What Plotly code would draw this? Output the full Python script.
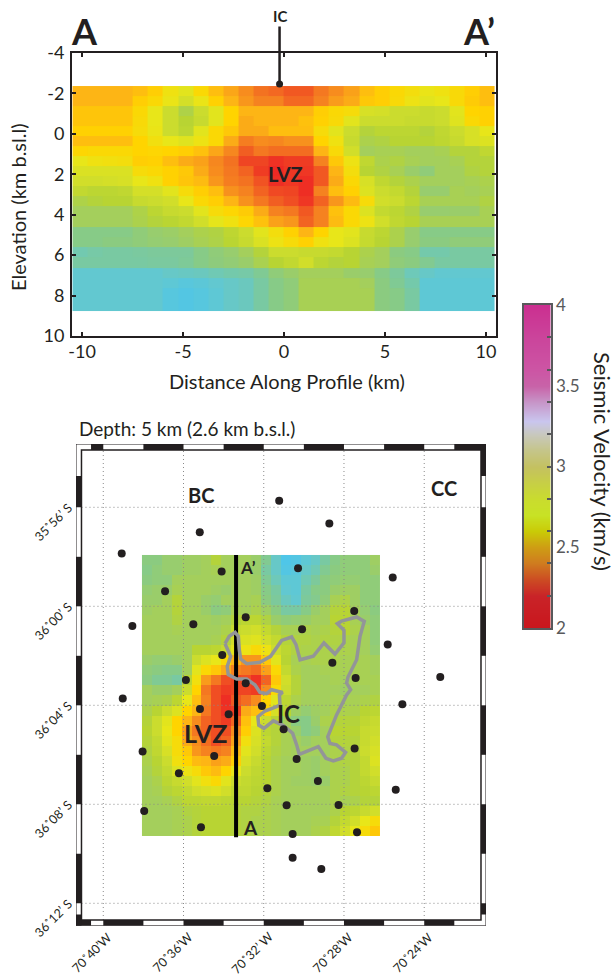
import plotly.graph_objects as go

W, H = 616, 978
INK = "#231f20"
FONT = "Lato"

# ---------- colour scale of the velocity images (velocity = 2 + level/100) ----------
image_scale = [
    [0.0, "#ed2024"], [10/120, "#f04e23"], [20/120, "#f58220"], [30/120, "#fdb515"],
    [40/120, "#ffd400"], [50/120, "#e8e619"], [60/120, "#cbdc2e"], [70/120, "#b8d433"],
    [80/120, "#a4cf5c"], [90/120, "#8bcb80"], [100/120, "#79c9a2"], [110/120, "#62c8d0"],
    [1.0, "#4fc6e8"],
]
# ---------- colour bar ----------
bar_scale = [
    [0.0, "#c9161d"], [0.1, "#c92328"], [0.15, "#cc4a23"], [0.2, "#cf7c1f"], [0.25, "#ce9d14"],
    [0.3, "#c9cb06"], [0.35, "#c8e225"], [0.4, "#c9dc2e"], [0.45, "#c7cf45"], [0.5, "#c4c160"],
    [0.55, "#c5c58a"], [0.6, "#c8c8be"], [0.64, "#c9c6ee"], [0.7, "#c795c8"], [0.75, "#c863a8"],
    [0.8, "#cc55a4"], [0.9, "#cb449b"], [1.0, "#cb2f90"],
]
bar_levels = [2.0, 2.1, 2.2, 2.3, 2.4, 2.5, 2.6, 2.7, 2.8, 2.9, 3.0, 3.1, 3.2, 3.3, 3.4, 3.5, 3.6, 3.7, 3.8, 3.9, 4.0]
bar_labels = [2, 2.5, 3, 3.5, 4]
bar_label_text = ["2", "2.5", "3", "3.5", "4"]
bar_minor = [2.2, 2.4, 2.6, 2.8, 3.0, 3.2, 3.4, 3.6, 3.8]

# ---------- cross-section A-A' ----------
section_dist_x0 = -10.10
section_dist_dx = 0.747
section_depth_edges = [-2.366, -1.87, -1.376, -0.88, -0.386, 0.109, 0.604, 1.1, 1.594, 2.09, 2.585, 3.08,
                       3.575, 4.07, 4.63, 5.126, 5.62, 6.116, 6.644, 7.14, 7.634, 8.13, 8.77]
section_levels = [
    [30,30,30,30,33,38,47,52,42,33,27,22,17,15,12,12,18,22,26,33,38,42,45,49,47,43,38,33],
    [30,30,30,30,38,42,49,57,49,39,30,24,20,20,15,15,20,25,28,36,38,43,48,52,50,43,37,33],
    [35,35,35,35,42,50,60,75,60,52,40,30,30,30,30,30,38,42,44,56,57,60,60,62,60,52,40,39],
    [35,35,35,35,43,50,60,70,62,52,40,28,30,30,30,34,39,43,52,60,60,60,62,62,60,53,42,39],
    [39,39,39,39,44,49,60,68,52,42,36,28,28,33,33,33,44,52,60,72,68,68,68,72,66,60,56,50],
    [33,33,33,33,40,46,50,53,48,42,28,19,22,21,23,23,40,47,62,76,74,70,70,70,67,62,56,54],
    [41,42,42,42,40,41,40,38,34,27,21,13,18,16,16,16,30,43,58,80,78,78,80,80,78,72,72,66],
    [50,47,46,45,38,39,33,28,26,21,17,8,8,4,6,6,20,36,48,66,76,74,78,80,80,78,72,72],
    [55,55,55,55,44,42,39,36,28,22,18,14,6,2,5,5,12,30,45,70,74,78,84,88,80,80,74,72],
    [58,58,57,56,50,47,39,35,32,24,19,17,11,3,5,3,12,28,42,56,66,72,76,80,80,80,78,76],
    [65,68,68,66,57,57,52,44,38,33,23,20,14,9,8,3,20,33,39,54,60,64,72,85,85,78,80,78],
    [75,72,70,70,62,60,58,50,42,38,30,23,18,13,10,5,14,24,32,44,58,60,68,78,78,78,78,74],
    [80,80,80,80,75,68,62,60,52,44,41,37,28,20,18,12,20,34,42,54,64,68,74,85,85,84,84,78],
    [80,80,80,80,76,72,69,65,58,51,47,41,34,26,24,14,20,32,42,48,58,66,70,78,78,78,78,78],
    [92,92,92,92,88,85,83,80,76,74,67,60,52,45,39,30,40,50,52,62,68,76,85,92,92,92,92,92],
    [92,92,90,90,88,86,85,82,78,75,69,62,55,48,44,39,47,50,54,63,70,76,85,90,90,88,88,88],
    [103,101,100,100,99,98,98,98,92,88,85,80,72,60,60,62,62,64,70,76,80,90,92,102,102,100,100,100],
    [100,100,100,100,100,99,99,97,92,89,87,84,77,70,65,58,68,72,70,78,80,88,90,95,100,100,100,100],
    [110,110,110,110,110,110,108,107,106,104,102,101,96,88,84,80,80,80,84,85,92,98,105,108,110,110,110,110],
    [110,110,110,110,110,110,112,115,113,110,108,106,100,92,88,78,78,78,78,80,90,96,102,112,112,112,112,112],
    [110,110,110,110,110,110,116,118,116,112,108,106,100,92,88,78,78,78,78,78,90,92,100,112,112,112,112,112],
    [110,110,110,110,110,110,116,118,116,112,108,106,100,92,88,78,78,78,78,78,90,92,100,112,112,112,112,112],
]
section_ticks_x = [-10, -5, 0, 5, 10]
section_tick_text_x = ["-10", "-5", "0", "5", "10"]
section_ticks_y = [-4, -2, 0, 2, 4, 6, 8, 10]
section_tick_text_y = ["-4", "-2", "0", "2", "4", "6", "8", "10"]
ic_dist = [-0.22]
ic_elev = [-2.47]

# ---------- depth slice map (minutes of arc relative to 70 W and 36 S) ----------
map_lon_x0 = -37.824
map_lon_dx = 0.4944
map_lat_y0 = 1.871
map_lat_dy = -0.406
map_levels = [
    [90,90,85,85,82,82,80,72,80,80,80,84,95,108,120,118,112,108,100,92,88,88,88,82],
    [92,88,85,85,82,82,80,78,80,80,80,84,100,108,118,115,108,104,95,90,88,88,88,84],
    [90,88,88,80,80,80,80,80,80,80,80,82,96,105,112,112,104,98,90,88,86,86,88,88],
    [86,84,84,78,80,80,80,82,84,80,80,82,92,100,110,112,100,92,90,84,82,82,88,88],
    [84,84,80,72,80,80,84,86,80,80,80,78,90,98,106,110,98,94,88,78,75,82,88,88],
    [82,80,80,72,80,80,84,90,88,78,80,76,82,90,100,100,92,84,80,72,70,80,86,90],
    [80,80,80,74,80,80,80,82,80,72,68,68,74,84,88,86,84,80,80,70,70,78,84,88],
    [80,80,80,78,80,80,80,80,76,62,60,58,64,72,78,78,76,78,76,72,70,76,80,88],
    [80,80,80,80,80,80,80,78,72,58,55,53,58,64,72,74,74,76,74,74,76,78,80,88],
    [80,80,80,80,80,70,70,68,62,52,48,43,48,60,68,74,76,76,76,76,76,78,80,86],
    [84,86,86,84,80,60,54,50,42,30,24,24,36,52,70,78,78,76,76,76,78,78,78,80],
    [88,90,92,92,80,52,42,36,28,20,18,16,26,42,64,76,80,80,78,78,78,78,78,80],
    [90,96,96,100,70,46,25,18,10,8,10,4,14,36,58,72,80,80,80,78,80,78,78,78],
    [80,84,84,80,60,40,18,10,6,8,8,6,22,42,60,72,80,80,80,80,82,80,80,78],
    [80,78,76,68,50,33,20,10,3,12,16,22,40,52,68,76,80,80,80,78,78,78,76,74],
    [76,70,60,54,40,30,18,10,4,6,28,33,40,56,70,82,86,82,80,76,76,76,70,68],
    [72,60,52,40,30,22,14,10,6,14,34,50,60,70,80,90,92,84,76,74,72,72,66,62],
    [70,60,50,40,26,18,14,10,10,22,38,54,68,72,78,84,92,88,80,70,70,70,62,60],
    [72,64,52,44,28,22,16,10,14,26,46,56,64,72,78,80,84,80,80,72,72,72,62,58],
    [74,66,56,44,36,24,20,18,20,32,52,58,68,74,78,80,80,80,80,76,74,72,60,56],
    [76,70,60,46,40,32,30,26,28,38,56,62,70,76,80,80,82,84,80,76,74,72,64,54],
    [78,72,64,54,48,44,36,32,40,50,60,66,70,76,80,80,82,84,80,76,76,72,64,58],
    [80,76,68,62,58,52,46,42,52,60,64,68,70,76,80,82,82,84,84,76,76,72,68,62],
    [80,78,72,68,64,58,56,54,58,66,66,70,72,76,80,80,80,80,80,76,74,72,70,68],
    [80,80,78,74,68,68,66,66,68,70,70,72,74,78,80,80,80,80,80,76,78,76,72,72],
    [80,80,80,78,74,72,70,70,70,72,74,74,76,78,80,80,80,80,80,76,70,68,62,58],
    [80,80,80,78,76,72,70,70,70,72,74,76,76,78,80,80,80,78,78,72,64,58,50,44],
    [80,80,80,78,76,72,70,70,70,72,74,76,76,78,80,80,80,76,74,66,58,50,44,36],
]
station_lon = [-39.08,-35.19,-31.23,-34.10,-36.92,-38.55,-35.51,-32.90,-34.07,-35.88,-32.90,-39.03,-32.09,-35.18,
               -28.73,-30.29,-25.57,-27.49,-30.09,-25.82,-28.58,-27.42,-23.20,-25.09,-33.75,-31.01,-38.04,-34.47,
               -30.36,-36.23,-31.82,-37.96,-30.86,-35.13,-30.56,-30.56,-27.47,-29.30,-25.42,-28.27,-27.35,-29.13]
station_lat = [2.13,2.99,4.27,1.41,0.61,-0.80,-0.73,-0.44,-1.97,-2.98,-3.11,-3.73,-4.03,-4.15,
               3.35,1.54,1.16,-0.19,-0.93,-1.54,-2.28,-2.90,-2.86,-3.96,-4.36,-4.97,-5.87,-6.05,
               -6.17,-6.75,-7.35,-8.27,-8.04,-8.93,-9.20,-10.16,-5.75,-7.06,-7.41,-8.03,-9.13,-10.61]
caldera_lon = [-33.93,-33.72,-33.43,-33.27,-33.22,-33.15,-32.85,-32.19,-31.66,-31.39,-31.11,-30.61,-30.39,-30.19,
               -29.53,-29.00,-28.45,-28.00,-28.00,-28.33,-28.12,-27.37,-26.99,-27.20,-27.37,-27.80,-27.87,-27.67,
               -27.87,-28.37,-28.81,-28.70,-28.37,-27.92,-28.12,-28.53,-28.90,-29.28,-30.23,-30.36,-30.56,-31.02,
               -31.52,-31.99,-32.25,-32.29,-31.94,-31.52,-31.19,-31.22,-31.06,-31.61,-31.86,-32.19,-32.44,-32.85,
               -33.35,-33.77,-33.82,-33.65,-33.93]
caldera_lat = [-1.51,-1.21,-1.05,-1.21,-1.75,-2.13,-2.32,-2.26,-2.02,-1.69,-1.38,-1.24,-1.55,-2.16,
               -2.02,-1.48,-1.93,-1.48,-0.97,-0.70,-0.60,-0.43,-0.61,-1.21,-2.16,-2.86,-3.10,-3.37,
               -3.58,-4.39,-5.27,-5.54,-5.60,-5.90,-6.14,-6.25,-6.14,-5.67,-5.98,-5.60,-5.13,-4.82,
               -4.63,-4.93,-4.80,-4.46,-4.23,-4.10,-3.99,-3.58,-3.48,-3.37,-3.53,-3.48,-3.17,-2.94,
               -2.94,-2.76,-2.43,-2.02,-1.51]
profile_lon = [-33.38, -33.38]
profile_lat = [2.073, -9.33]
grid_lon = [-40, -36, -32, -28, -24]
grid_lat = [4, 0, -4, -8, -12]
lon_labels = ["70˚40’W", "70˚36’W", "70˚32’ W", "70˚28’W", "70˚24’W"]
lat_labels = ["35˚56’ S", "36˚00’ S", "36˚04’ S", "36˚08’ S", "36˚12’ S"]

map_x_range = [-41.36, -20.92]
map_y_range = [-12.905, 6.558]
inner_x = [-41.087, -21.17]
inner_y = [-12.675, 6.315]
top_black = [(-40.61,-40),(-38,-36),(-34,-32),(-30,-28),(-26,-24),(-22.5,-20.92)]
bottom_black = [(-41.36,-40.61),(-40,-38),(-36,-34),(-32,-30),(-28,-26),(-24,-22.5)]
left_black = [(4,5.26),(0,2),(-4,-2),(-8,-6),(-12,-10),(-12.905,-12.45)]
right_black = [(5.26,6.558),(2,4),(-2,0),(-6,-4),(-10,-8),(-12.45,-12)]


def dom_x(a, b):
    return [a / W, b / W]


def dom_y(top, bottom):
    return [1 - bottom / H, 1 - top / H]


def to_velocity(levels):
    return [[2 + v / 100 for v in row] for row in levels]


fig = go.Figure()

fig.add_trace(go.Heatmap(
    z=to_velocity(section_levels), x0=section_dist_x0, dx=section_dist_dx, y=section_depth_edges,
    colorscale=image_scale, zmin=2, zmax=3.2, showscale=False, xaxis="x", yaxis="y"))
fig.add_trace(go.Scatter(
    x=ic_dist, y=ic_elev, mode="markers", marker=dict(color=INK, size=7), cliponaxis=False,
    hoverinfo="skip", xaxis="x", yaxis="y"))

fig.add_trace(go.Heatmap(
    z=to_velocity(map_levels), x0=map_lon_x0, dx=map_lon_dx, y0=map_lat_y0, dy=map_lat_dy,
    colorscale=image_scale, zmin=2, zmax=3.2, showscale=False, xaxis="x2", yaxis="y2"))

grid_x, grid_y = [], []
for lon in grid_lon:
    grid_x += [lon, lon, None]
    grid_y += [inner_y[0], inner_y[1], None]
for lat in grid_lat:
    grid_x += [inner_x[0], inner_x[1], None]
    grid_y += [lat, lat, None]
fig.add_trace(go.Scatter(
    x=grid_x, y=grid_y, mode="lines", line=dict(color="#8a8a8a", width=1, dash="1px,3px"),
    hoverinfo="skip", xaxis="x2", yaxis="y2"))
fig.add_trace(go.Scatter(
    x=profile_lon, y=profile_lat, mode="lines", line=dict(color="#000000", width=4),
    hoverinfo="skip", xaxis="x2", yaxis="y2"))
fig.add_trace(go.Scatter(
    x=caldera_lon, y=caldera_lat, mode="lines", line=dict(color="#939598", width=3.5),
    hoverinfo="skip", xaxis="x2", yaxis="y2"))
fig.add_trace(go.Scatter(
    x=station_lon, y=station_lat, mode="markers", marker=dict(color=INK, size=8),
    hoverinfo="skip", xaxis="x2", yaxis="y2"))

fig.add_trace(go.Heatmap(
    z=[[v, v] for v in bar_levels], x=[0, 1], y=bar_levels, colorscale=bar_scale, zmin=2, zmax=4,
    zsmooth="best", showscale=False, xaxis="x3", yaxis="y3"))

shapes = []
def box(x0, x1, y0, y1, fill):
    shapes.append(dict(type="rect", xref="x2", yref="y2", x0=x0, x1=x1, y0=y0, y1=y1,
                       fillcolor=fill, line=dict(width=0)))

box(map_x_range[0], map_x_range[1], inner_y[1], map_y_range[1], "white")
box(map_x_range[0], map_x_range[1], map_y_range[0], inner_y[0], "white")
box(map_x_range[0], inner_x[0], map_y_range[0], map_y_range[1], "white")
box(inner_x[1], map_x_range[1], map_y_range[0], map_y_range[1], "white")
for a, b in top_black:
    box(a, b, inner_y[1], map_y_range[1], INK)
for a, b in bottom_black:
    box(a, b, map_y_range[0], inner_y[0], INK)
for a, b in left_black:
    box(map_x_range[0], inner_x[0], a, b, INK)
for a, b in right_black:
    box(inner_x[1], map_x_range[1], a, b, INK)
for xr, yr, col, w in [(map_x_range, map_y_range, INK, 1), (inner_x, inner_y, INK, 1.5)]:
    shapes.append(dict(type="rect", xref="x2", yref="y2", x0=xr[0], x1=xr[1], y0=yr[0], y1=yr[1],
                       line=dict(color=col, width=w)))

ann = []
def label(text, x, y, size, bold=False, color=INK, angle=0, xanchor="center"):
    t = f"<b>{text}</b>" if bold else text
    ann.append(dict(text=t, x=x / W, y=1 - y / H, xref="paper", yref="paper", showarrow=False,
                    xanchor=xanchor, yanchor="middle", textangle=angle,
                    font=dict(family=FONT, size=size, color=color)))

label("A", 84, 31, 36, True)
label("A’", 497, 31, 36, True, xanchor="right")
ann.append(dict(text="<b>IC</b>", x=ic_dist[0], y=ic_elev[0], xref="x", yref="y", showarrow=True,
                ax=0, ay=-68, axref="pixel", ayref="pixel", arrowhead=0, arrowwidth=2.5, arrowcolor=INK,
                standoff=0, font=dict(family=FONT, size=15, color=INK)))
label("LVZ", 285, 174, 20, True)
label("Distance Along Profile (km)", 287, 381, 20)
label("Elevation (km b.sl.l)", 18, 207, 20, angle=-90)
label("Depth: 5 km (2.6 km b.s.l.)", 77, 428, 19, xanchor="left")
label("BC", 201, 495, 20, True)
label("CC", 444, 488, 20, True)
label("A’", 248, 567, 17, True)
label("A", 250, 827, 19, True)
label("IC", 288, 713, 24, True)
label("LVZ", 206, 733, 25, True)
label("Seismic Velocity (km/s)", 603, 461, 22, angle=90)

for text, lon in zip(lon_labels, grid_lon):
    ann.append(dict(text=text, x=lon, y=map_y_range[0], xref="x2", yref="y2", showarrow=False,
                    xanchor="center", yanchor="middle", textangle=-45, xshift=-11, yshift=-27,
                    font=dict(family=FONT, size=12.5, color=INK)))
for text, lat in zip(lat_labels, grid_lat):
    ann.append(dict(text=text, x=map_x_range[0], y=lat, xref="x2", yref="y2", showarrow=False,
                    xanchor="center", yanchor="middle", textangle=-45, xshift=-23, yshift=-15,
                    font=dict(family=FONT, size=12.5, color=INK)))

tickfont = dict(family=FONT, size=18, color=INK)
fig.update_layout(
    width=W, height=H, autosize=False, margin=dict(l=0, r=0, t=0, b=0, autoexpand=False),
    paper_bgcolor="white", plot_bgcolor="white", showlegend=False,
    font=dict(family=FONT), shapes=shapes, annotations=ann,
    xaxis=dict(domain=dom_x(72, 496), range=[-10.5, 10.5], anchor="y", tickmode="array",
               tickvals=section_ticks_x, ticktext=section_tick_text_x, ticklabelstandoff=-2,
               ticks="inside", ticklen=4, tickwidth=1.5, tickcolor=INK, showline=True, linecolor=INK,
               linewidth=2, mirror="ticks", showgrid=False, zeroline=False, tickfont=tickfont),
    yaxis=dict(domain=dom_y(53, 336), range=[10, -4], anchor="x", tickmode="array",
               tickvals=section_ticks_y, ticktext=section_tick_text_y, ticklabelstandoff=2,
               ticks="inside", ticklen=4, tickwidth=1.5, tickcolor=INK, showline=True, linecolor=INK,
               linewidth=2, mirror="ticks", showgrid=False, zeroline=False, tickfont=tickfont),
    xaxis2=dict(domain=dom_x(76, 486), range=map_x_range, anchor="y2", showticklabels=False, ticks="",
                showgrid=False, zeroline=False, showline=False),
    yaxis2=dict(domain=dom_y(444, 925.7), range=map_y_range, anchor="x2", showticklabels=False, ticks="",
                showgrid=False, zeroline=False, showline=False),
    xaxis3=dict(domain=dom_x(524, 550.5), range=[0, 1], anchor="y3", showticklabels=False, ticks="",
                showgrid=False, zeroline=False, showline=True, linecolor="#58595b", linewidth=2, mirror=True),
    yaxis3=dict(domain=dom_y(305, 628), range=[2, 4], anchor="x3", side="right", tickmode="array",
                tickvals=bar_labels, ticktext=bar_label_text,
                ticks="", showgrid=False, zeroline=False, showline=True, linecolor="#58595b", linewidth=2,
                mirror=True, tickfont=dict(family=FONT, size=17, color="#58595b"),
                minor=dict(tickvals=bar_minor, ticks="inside", ticklen=4, tickcolor="#58595b", tickwidth=1.5,
                           showgrid=False)),
)

fig.write_html("out.html", config=dict(displayModeBar=False),
               post_script="document.body.style.margin='0';document.documentElement.style.overflow='hidden';")
